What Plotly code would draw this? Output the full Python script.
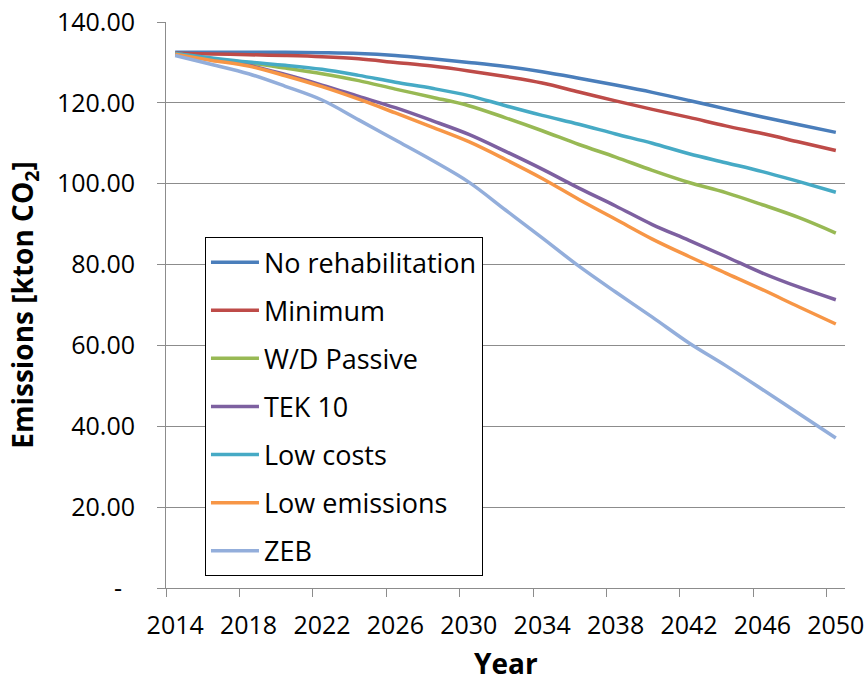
import plotly.graph_objects as go

years = list(range(2014, 2051, 2))

no_rehabilitation = [132.5, 132.5, 132.5, 132.5, 132.4, 132.2, 131.7, 130.9, 130.0, 129.0,
                     127.7, 126.1, 124.4, 122.6, 120.6, 118.5, 116.5, 114.6, 112.7]
minimum = [132.3, 132.1, 131.9, 131.7, 131.4, 130.9, 130.0, 129.1, 127.9, 126.5,
           124.9, 122.7, 120.5, 118.4, 116.4, 114.3, 112.4, 110.3, 108.2]
wd_passive = [132.2, 130.9, 129.9, 128.6, 127.2, 125.5, 123.4, 121.4, 119.3, 116.3,
              113.1, 109.7, 106.6, 103.3, 100.3, 97.8, 94.8, 91.6, 87.8]
tek10 = [132.2, 130.7, 129.3, 127.0, 124.4, 121.6, 118.8, 115.6, 112.2, 108.0,
         103.6, 98.9, 94.5, 89.9, 86.0, 82.0, 77.9, 74.4, 71.3]
low_costs = [132.2, 131.1, 130.1, 129.3, 128.3, 126.8, 125.1, 123.6, 121.8, 119.3,
             116.9, 114.7, 112.3, 110.0, 107.4, 105.2, 103.0, 100.5, 97.9]
low_emissions = [132.0, 130.5, 129.1, 126.7, 124.0, 120.9, 117.5, 114.0, 110.4, 106.0,
                 101.3, 96.1, 91.2, 86.3, 82.0, 77.9, 73.8, 69.5, 65.3]
zeb = [131.7, 129.5, 127.2, 124.1, 120.7, 115.8, 110.8, 105.8, 100.4, 93.5,
       86.6, 79.6, 73.2, 67.0, 60.6, 55.0, 49.1, 43.1, 37.1]

series_names = ["No rehabilitation", "Minimum", "W/D Passive", "TEK 10",
                "Low costs", "Low emissions", "ZEB"]
series_values = [no_rehabilitation, minimum, wd_passive, tek10,
                 low_costs, low_emissions, zeb]
series_colors = ["#4A7EBB", "#BE4B48", "#98B954", "#7D60A0",
                 "#46AAC5", "#F79646", "#93AEDB"]

label_years = list(range(2014, 2051, 4))
boundary_years = [y - 0.5 for y in range(2014, 2051, 4)]
y_ticks = [0, 20, 40, 60, 80, 100, 120, 140]
y_ticktext = ["-\u00a0\u00a0"] + [f"{v:.2f}" for v in y_ticks[1:]]

FONT = "Open Sans"
GRID = "#8C8C8C"

fig = go.Figure()
for name, vals, col in zip(series_names, series_values, series_colors):
    fig.add_trace(go.Scatter(
        x=years, y=vals, name=name, mode="lines",
        line=dict(color=col, width=3.5, shape="spline", smoothing=1.0),
        legendgroup=name,
    ))

fig.update_layout(
    width=865, height=682,
    margin=dict(l=166, r=20, t=22, b=94),
    paper_bgcolor="white", plot_bgcolor="white",
    font=dict(family=FONT, color="black", size=24),
    showlegend=True,
    legend=dict(
        x=0.0574, y=0.620, xanchor="left", yanchor="top",
        bordercolor="black", borderwidth=1, bgcolor="white",
        font=dict(family=FONT, size=27, color="black"),
        tracegroupgap=10, itemwidth=48,
    ),
    xaxis=dict(
        range=[2013.5, 2050.5], automargin=False,
        tickmode="array", tickvals=label_years,
        ticktext=[str(y) for y in label_years],
        ticks="outside", ticklen=8, tickcolor="rgba(0,0,0,0)",
        ticklabelstandoff=7,
        showgrid=False, zeroline=False,
        showline=True, linecolor=GRID, linewidth=1,
        minor=dict(tickmode="array", tickvals=boundary_years,
                   ticks="outside", ticklen=8, tickcolor=GRID, tickwidth=1,
                   showgrid=False),
        tickfont=dict(family=FONT, size=25, color="black"),
    ),
    yaxis=dict(
        range=[0, 140], automargin=False,
        tickmode="array", tickvals=y_ticks, ticktext=y_ticktext,
        ticks="outside", ticklen=8, tickcolor=GRID, tickwidth=1,
        ticklabelstandoff=17,
        showgrid=True, gridcolor=GRID, gridwidth=1,
        zeroline=False,
        showline=True, linecolor=GRID, linewidth=1,
        tickfont=dict(family=FONT, size=25, color="black"),
        title=dict(text="<b>Emissions [kton CO<sub>2</sub>]</b>",
                   font=dict(family=FONT, size=28, color="black")),
    ),
    annotations=[dict(
        text="<b>Year</b>", xref="paper", yref="paper", x=0.5, y=-0.1325,
        xanchor="center", yanchor="middle", showarrow=False,
        font=dict(family=FONT, size=28, color="black"),
    )],
)

fig.write_html("out.html", config={"displayModeBar": False},
               post_script="document.body.style.margin='0px';")
